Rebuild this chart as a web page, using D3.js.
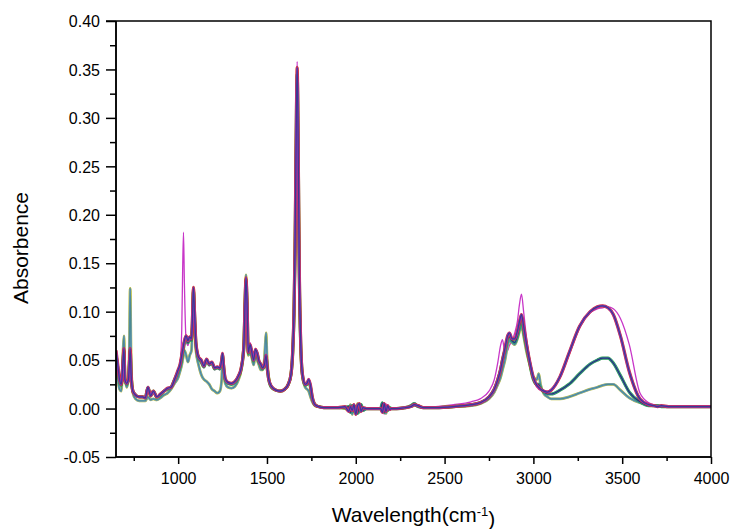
<!DOCTYPE html>
<head>
  <meta charset="utf-8">
  <title>Absorbence spectra</title>
  <script src="https://d3js.org/d3.v7.min.js"></script>
  <style>
    body {
      margin: 0px;
      background: white;
    }
    text {
      font-family: "Liberation Sans", Arial, sans-serif;
      fill: black;
    }
    .axis text {
      font-size: 16px;
    }
    .axis path, .axis line {
      stroke: black;
      stroke-width: 1.5;
    }
    .spectrum {
      fill: none;
      stroke-linejoin: round;
    }
  </style>
</head>

<body>
  <svg width="732" height="529"></svg>

  <script>
    // wavenumber grid shared by all spectra (cm-1)
    var wavenumbers = [
      650, 660, 670, 680, 690, 695, 700, 710, 720, 725,
      730, 735, 745, 760, 780, 800, 815, 830, 845, 860,
      880, 900, 920, 940, 960, 980, 1000, 1010, 1020, 1025,
      1030, 1035, 1045, 1055, 1065, 1075, 1080, 1086, 1092, 1100,
      1115, 1130, 1145, 1160, 1175, 1190, 1205, 1220, 1235, 1245,
      1250, 1255, 1265, 1280, 1300, 1320, 1340, 1355, 1370, 1377,
      1382, 1387, 1395, 1405, 1415, 1425, 1435, 1445, 1455, 1465,
      1475, 1485, 1490, 1495, 1500, 1510, 1525, 1550, 1575, 1600,
      1620, 1635, 1645, 1652, 1658, 1663, 1667, 1670, 1673, 1677,
      1682, 1690, 1700, 1715, 1725, 1735, 1745, 1755, 1770, 1790,
      1820, 1860, 1900, 1940, 1960, 1970, 1980, 1990, 2000, 2010,
      2020, 2030, 2040, 2060, 2100, 2140, 2150, 2160, 2170, 2180,
      2190, 2200, 2230, 2280, 2310, 2330, 2350, 2380, 2450, 2550,
      2650, 2700, 2750, 2780, 2800, 2815, 2826, 2840, 2855, 2865,
      2880, 2895, 2910, 2922, 2933, 2945, 2960, 2980, 3000, 3020,
      3030, 3040, 3060, 3080, 3100, 3150, 3200, 3260, 3320, 3360,
      3390, 3420, 3450, 3490, 3540, 3600, 3650, 3680, 3700, 3720,
      3760, 3800, 3850, 3900, 3950, 4000
    ];

    // magenta sample (strong 1030 / 2826 / 2933 bands)
    var magentaAbs = [
      .058, .045, .030, .024, .055, .060, .030, .025, .030, .045,
      .060, .035, .018, .014, .012, .012, .011, .022, .013, .018,
      .012, .014, .018, .020, .022, .030, .038, .045, .080, .140,
      .182, .130, .070, .065, .072, .070, .085, .120, .095, .065,
      .052, .048, .042, .050, .044, .047, .040, .042, .040, .048,
      .056, .045, .030, .026, .025, .028, .034, .042, .065, .110,
      .135, .115, .060, .068, .060, .052, .062, .058, .050, .046,
      .042, .045, .050, .055, .045, .030, .023, .019, .018, .020,
      .025, .035, .060, .100, .170, .260, .330, .358, .330, .250,
      .150, .070, .035, .025, .026, .031, .025, .012, .004, .002,
      .001, .001, .001, .001, .000, .003, -.004, .002, -.005, .004,
      -.003, .002, .000, .000, .000, .000, .004, -.006, .005, -.002,
      .001, .000, .000, .001, .003, .006, .002, .002, .002, .004,
      .007, .010, .018, .030, .048, .065, .071, .058, .060, .065,
      .070, .078, .090, .108, .118, .100, .075, .050, .030, .022,
      .020, .019, .018, .018, .020, .032, .055, .083, .099, .103,
      .104, .105, .103, .093, .066, .016, .006, .004, .003, .002,
      .002, .002, .002, .002, .002, .002
    ];

    // samples with the large 3400 band
    var highBandAbs = [
      .060, .045, .030, .025, .050, .062, .030, .026, .030, .045,
      .062, .035, .018, .014, .012, .012, .011, .022, .013, .018,
      .012, .015, .018, .021, .022, .030, .040, .045, .055, .060,
      .065, .070, .075, .070, .074, .072, .090, .125, .100, .068,
      .053, .050, .044, .051, .046, .048, .042, .043, .042, .050,
      .057, .046, .031, .027, .026, .028, .034, .042, .065, .112,
      .135, .115, .058, .066, .058, .050, .061, .057, .049, .046,
      .042, .045, .050, .055, .045, .030, .023, .019, .018, .020,
      .025, .035, .060, .098, .165, .255, .325, .352, .325, .245,
      .145, .068, .035, .025, .026, .030, .024, .012, .004, .002,
      .001, .001, .001, .002, -.003, .002, -.002, .004, -.006, .003,
      .005, -.003, .001, .000, .000, .000, -.004, .005, -.003, .003,
      -.001, .000, .000, .001, .002, .004, .003, .001, .001, .002,
      .004, .006, .012, .020, .030, .040, .050, .062, .075, .078,
      .072, .072, .080, .090, .097, .085, .068, .048, .032, .024,
      .022, .020, .018, .017, .019, .033, .057, .085, .100, .105,
      .106, .104, .097, .075, .038, .010, .004, .003, .002, .003,
      .002, .002, .002, .002, .002, .002
    ];

    // samples with the medium 3400 band
    var midBandAbs = [
      .055, .042, .028, .024, .050, .060, .030, .025, .030, .045,
      .060, .035, .018, .014, .012, .012, .011, .022, .013, .018,
      .012, .014, .018, .020, .022, .030, .038, .043, .052, .058,
      .062, .068, .072, .068, .072, .070, .088, .122, .098, .066,
      .052, .048, .043, .050, .045, .047, .041, .042, .041, .049,
      .056, .045, .030, .026, .025, .027, .033, .041, .064, .110,
      .133, .113, .057, .064, .056, .049, .060, .056, .048, .045,
      .041, .044, .049, .054, .044, .030, .022, .019, .018, .020,
      .025, .035, .058, .096, .160, .250, .320, .345, .320, .240,
      .140, .066, .034, .024, .025, .028, .022, .011, .004, .002,
      .001, .001, .001, .001, .002, -.004, .003, -.003, .002, -.005,
      .002, .004, -.002, .000, .000, .000, .006, -.004, .002, -.002,
      .001, .000, .000, .001, .003, .005, .002, .001, .001, .002,
      .004, .006, .012, .020, .030, .040, .050, .060, .072, .074,
      .070, .068, .075, .085, .093, .080, .065, .046, .030, .025,
      .025, .021, .017, .015, .015, .019, .025, .036, .046, .050,
      .052, .052, .047, .034, .017, .007, .003, .003, .003, .002,
      .002, .002, .002, .002, .002, .002
    ];

    // samples with the weak 3400 band
    var lowBandAbs = [
      .040, .030, .020, .018, .060, .075, .035, .022, .030, .060,
      .124, .050, .016, .010, .008, .008, .008, .012, .009, .010,
      .009, .011, .014, .016, .020, .026, .032, .038, .045, .050,
      .055, .060, .055, .048, .055, .060, .085, .125, .095, .060,
      .045, .035, .030, .028, .025, .020, .018, .016, .018, .030,
      .052, .040, .026, .022, .021, .023, .030, .040, .068, .115,
      .138, .110, .055, .058, .052, .045, .055, .050, .045, .040,
      .040, .050, .065, .078, .055, .032, .022, .019, .018, .020,
      .025, .035, .058, .095, .160, .245, .315, .340, .315, .235,
      .140, .065, .033, .022, .020, .018, .012, .007, .003, .002,
      .001, .001, .001, .000, -.002, .004, -.006, .003, -.003, .005,
      -.004, .002, .000, .000, .000, .000, -.003, .004, -.005, .002,
      .000, .000, .000, .001, .002, .003, .003, .001, .001, .002,
      .003, .005, .010, .017, .025, .032, .040, .050, .065, .070,
      .068, .066, .072, .080, .086, .075, .060, .045, .032, .030,
      .036, .025, .015, .012, .010, .010, .012, .016, .020, .022,
      .024, .025, .025, .019, .011, .006, .004, .003, .003, .002,
      .002, .002, .002, .002, .002, .002
    ];

    var xTicks = [1000, 1500, 2000, 2500, 3000, 3500, 4000];
    var yTicks = [-0.05, 0.00, 0.05, 0.10, 0.15, 0.20, 0.25, 0.30, 0.35, 0.40];

    var svg = d3.select("svg");
    var margin = { "top": 21, "bottom": 72, "left": 116, "right": 21 };
    var plot = {
      "width": svg.attr("width") - margin.left - margin.right,
      "height": svg.attr("height") - margin.top - margin.bottom
    };

    var x = d3.scaleLinear().domain([650, 4000]).range([0, plot.width]);
    var y = d3.scaleLinear().domain([-0.05, 0.40]).range([plot.height, 0]);

    var g = svg.append("g").attr("transform", translate(margin.left, margin.top));

    svg.append("clipPath").attr("id", "clip")
      .append("rect")
      .attr("width", plot.width)
      .attr("height", plot.height);

    // each group drawn as a few stacked strokes so the overlapping runs show through
    var layers = [
      { "data": magentaAbs,  "color": "#c836c8", "width": 1.3 },
      { "data": lowBandAbs,  "color": "#b9b92e", "width": 2.8 },
      { "data": lowBandAbs,  "color": "#6f9fd2", "width": 2.0 },
      { "data": lowBandAbs,  "color": "#4a8a94", "width": 1.1 },
      { "data": midBandAbs,  "color": "#2f9e4a", "width": 3.2 },
      { "data": midBandAbs,  "color": "#3a9a9a", "width": 2.2 },
      { "data": midBandAbs,  "color": "#2c2c7c", "width": 1.2 },
      { "data": highBandAbs, "color": "#d83030", "width": 3.2 },
      { "data": highBandAbs, "color": "#9a35b8", "width": 2.3 },
      { "data": highBandAbs, "color": "#3a3a92", "width": 1.2 }
    ];

    var line = d3.line()
      .curve(d3.curveMonotoneX)
      .x(function(d, i) { return x(wavenumbers[i]); })
      .y(function(d) { return y(d); });

    g.append("g")
      .attr("clip-path", "url(#clip)")
      .selectAll(".spectrum")
      .data(layers)
      .enter()
      .append("path")
      .attr("class", "spectrum")
      .attr("stroke", function(d) { return d.color; })
      .attr("stroke-width", function(d) { return d.width; })
      .attr("d", function(d) { return line(d.data); });

    // minor ticks
    var xMinor = d3.range(750, 4000, 250).filter(function(v) { return v % 500 != 0; });
    var yMinor = d3.range(-0.025, 0.40, 0.05);
    var fmt = d3.format(".2f");

    var xAxis = g.append("g")
      .attr("class", "axis")
      .attr("transform", translate(0, plot.height));
    xAxis.call(d3.axisBottom(x).tickValues(xMinor).tickSize(4).tickFormat(""));
    xAxis.append("g").call(d3.axisBottom(x).tickValues(xTicks).tickSize(7).tickPadding(9)
      .tickFormat(d3.format("d")));
    xAxis.selectAll(".domain").attr("d", "M0,0H" + plot.width);

    var yAxis = g.append("g").attr("class", "axis");
    yAxis.call(d3.axisLeft(y).tickValues(yMinor).tickSize(6).tickFormat(""));
    yAxis.append("g").call(d3.axisLeft(y).tickValues(yTicks).tickSize(10).tickPadding(6)
      .tickFormat(function(d) { return fmt(d).replace("\u2212", "-"); }));
    yAxis.selectAll(".domain").attr("d", "M0," + plot.height + "V0");
    yAxis.selectAll("text").attr("dy", "0.36em");

    // top and right frame, top line reaches out over the 0.40 tick
    g.append("path")
      .attr("d", "M-10,0H" + plot.width + "V" + plot.height)
      .attr("fill", "none")
      .attr("stroke", "black")
      .attr("stroke-width", 1.5);

    var xLabel = svg.append("text")
      .attr("x", margin.left + plot.width / 2)
      .attr("y", 522)
      .attr("text-anchor", "middle")
      .style("font-size", "21px");
    xLabel.append("tspan").text("Wavelength(cm");
    xLabel.append("tspan").attr("dy", "-0.5em").style("font-size", "13px").text("-1");
    xLabel.append("tspan").attr("dy", "0.5em").text(")");

    svg.append("text")
      .attr("transform", translate(28, 248) + " rotate(-90)")
      .attr("text-anchor", "middle")
      .style("font-size", "21px")
      .text("Absorbence");

    function translate(x, y) {
      return "translate(" + String(x) + "," + String(y) + ")";
    }
  </script>
</body>
</html>
